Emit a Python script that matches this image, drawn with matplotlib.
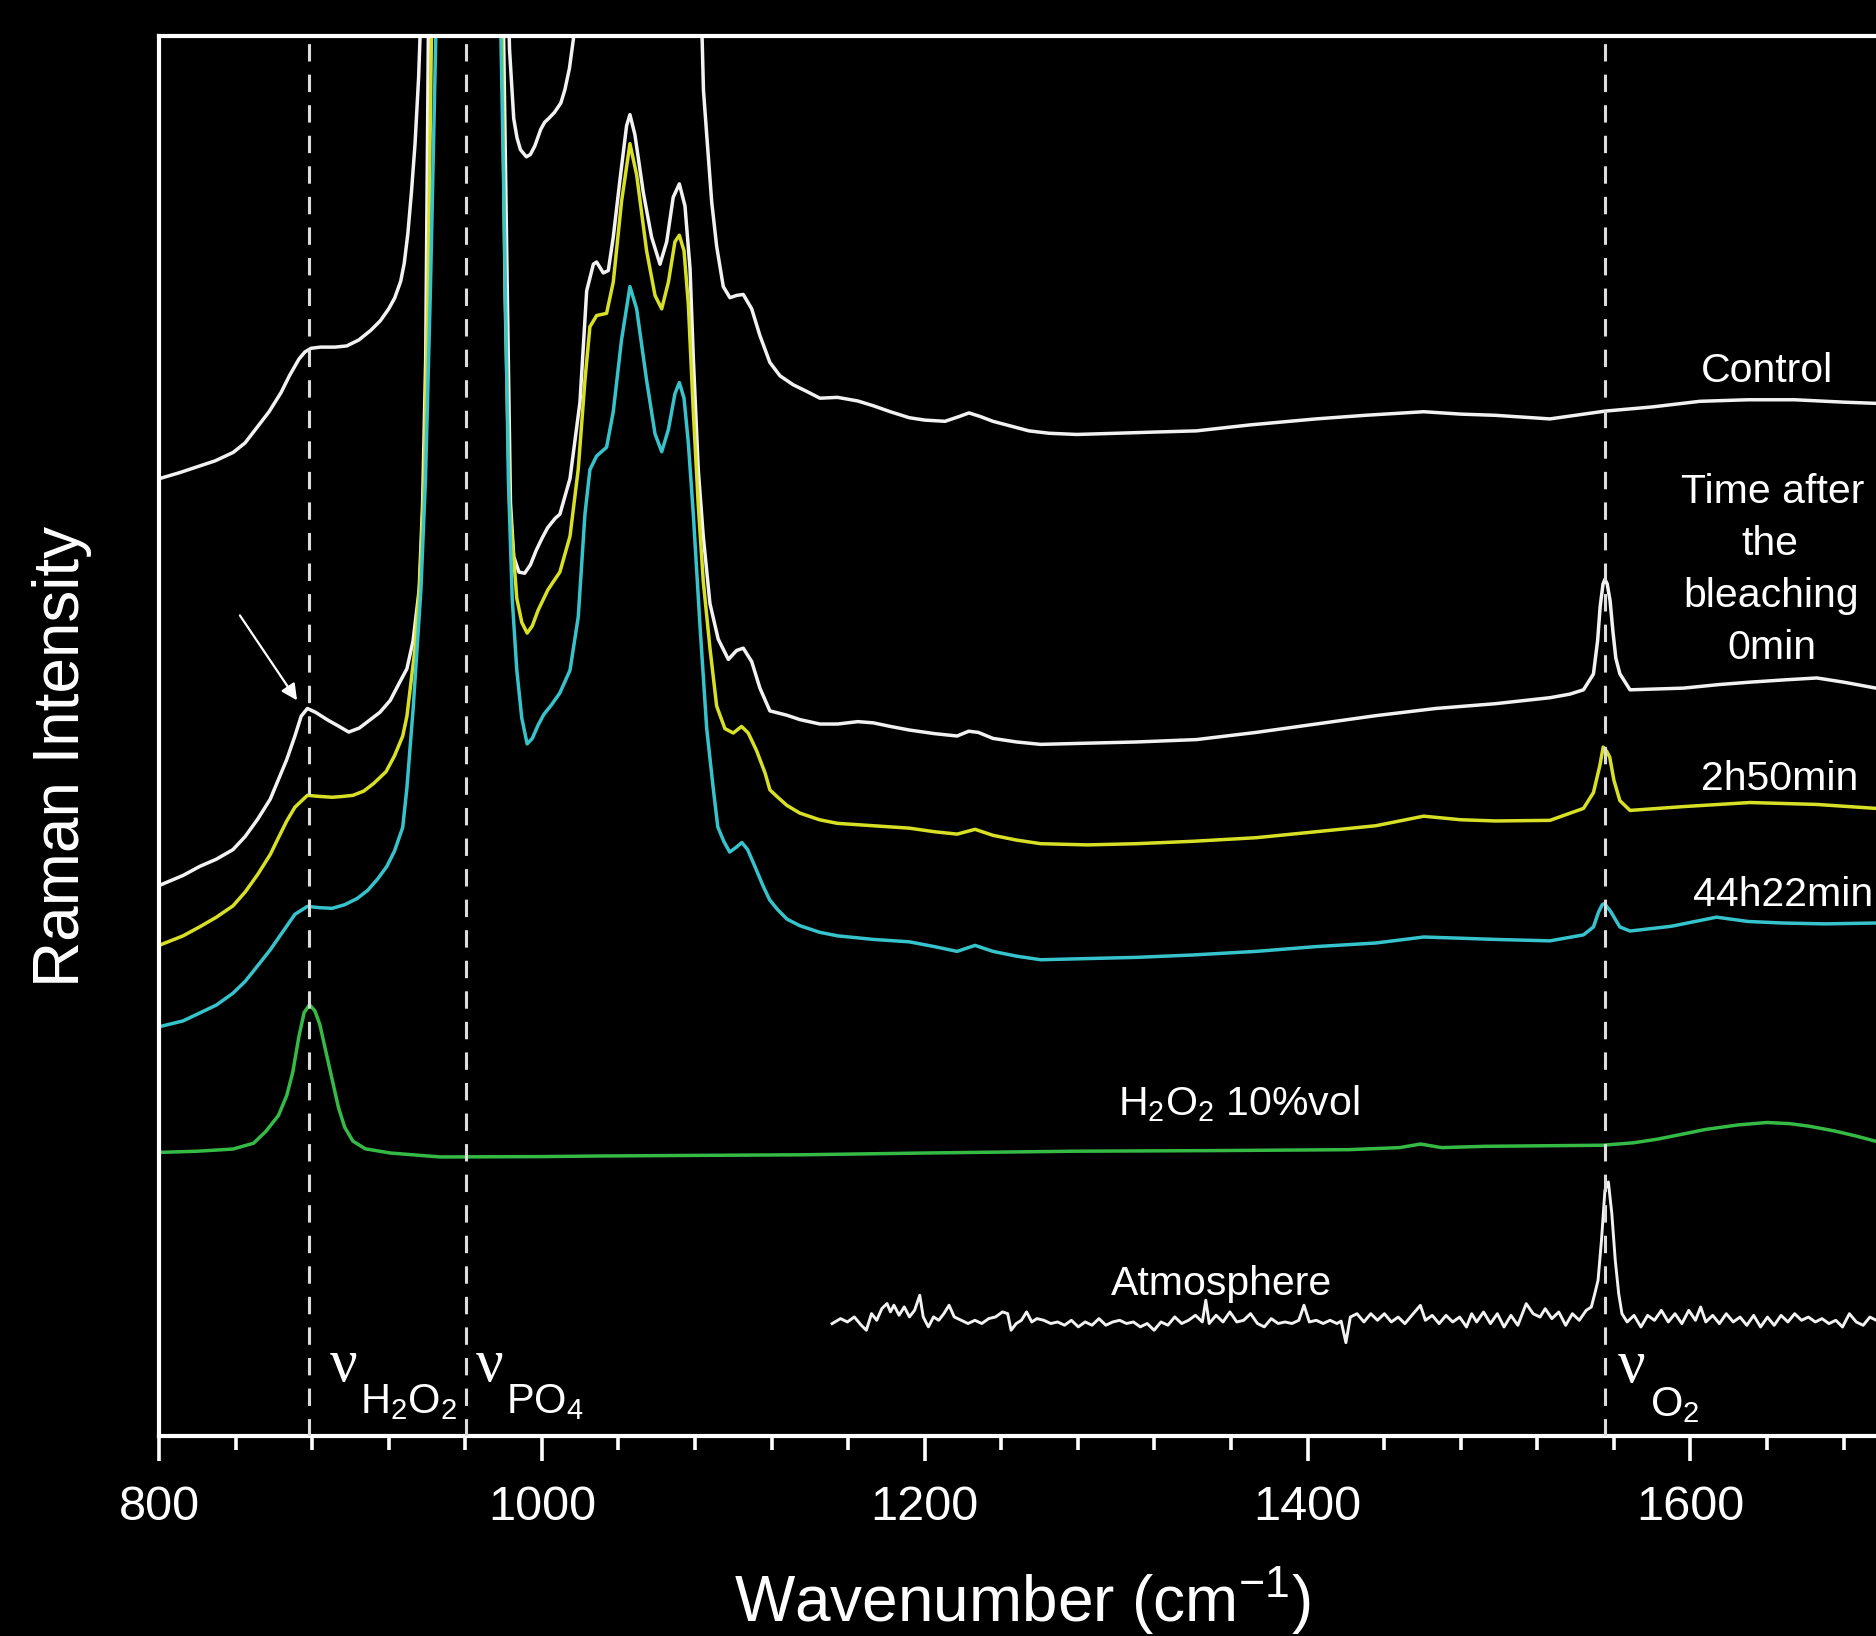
import matplotlib
matplotlib.use('Agg')
import matplotlib.pyplot as plt
from matplotlib.ticker import MultipleLocator

plt.rcParams['font.family'] = ['Liberation Sans', 'DejaVu Sans']
plt.rcParams['mathtext.fontset'] = 'custom'
plt.rcParams['mathtext.rm'] = 'Liberation Sans'
plt.rcParams['mathtext.it'] = 'Liberation Sans:italic'
plt.rcParams['mathtext.bf'] = 'Liberation Sans:bold'

# ---------------- data (wavenumber cm-1, Raman intensity in arbitrary units, offset spectra) ----------------
control_x = [800, 810.6, 820, 829.4, 838.75, 845, 851.25, 857.5, 863.75, 868.1, 873.1, 876.25, 879.4, 884.4,
             891.9, 898.1, 904.4, 910.6, 915.6, 920, 923.1, 926.25, 928.1, 930, 931.9, 933.75, 935.6, 937.5,
             942, 950, 961, 972, 978, 981, 983.1, 985.3, 987, 988.8, 991.9, 994, 996.3, 999.4, 1001.5, 1003.5,
             1006.5, 1009.9, 1012, 1014.4, 1016.6, 1025, 1046, 1060, 1072, 1080, 1084.4, 1086.1, 1088.7, 1091.3,
             1094.75, 1098.25, 1101.75, 1105.2, 1109.6, 1113.9, 1119.1, 1124.4, 1131.3, 1138.3, 1145.25, 1154.4,
             1165, 1173.1, 1182, 1191.9, 1200, 1210.6, 1218, 1223.1, 1229, 1235.6, 1245, 1254.4, 1265, 1279.4,
             1300, 1320, 1341.9, 1370, 1404.4, 1430, 1460.6, 1480, 1498.1, 1526.6, 1555.3, 1580, 1604.9, 1630,
             1654.4, 1680, 1696.9]
control_y = [800, 805, 810, 815, 822, 830, 843, 856, 872, 886, 900, 906, 909, 910,
             910, 911, 916, 924, 932, 942, 951, 965, 980, 1005, 1040, 1080, 1135, 1220,
             1500, 1800, 2000, 1800, 1500, 1300, 1159, 1101, 1085, 1075, 1069, 1071, 1078, 1092, 1098, 1101,
             1106, 1114, 1125, 1143, 1169, 1500, 1900, 1700, 1800, 1400, 1124.8, 1087.5, 1031.5, 994.2,
             960.6, 951.3, 953.2, 954, 942, 919.6, 897.2, 886, 878.5, 873, 867.3, 868,
             865, 861, 856, 851, 849, 848, 852, 855, 852, 848, 844, 840, 838, 837,
             838, 839, 840, 845, 850, 853, 856, 854, 853, 850, 856.5, 860, 864.7, 866,
             866, 864, 863]

t0_x = [800, 812.6, 821.25, 829.9, 838.6, 845, 851.6, 858.1, 862.4, 866.7, 871, 874.25, 877.5, 881.8, 888.3,
        893.75, 899.1, 904.6, 910, 915.4, 920.8, 925.1, 929.5, 932.7, 935.9, 937.7, 939.3, 940.7, 950, 961,
        970, 980, 982, 983.6, 985.3, 988, 991, 994, 997, 1000, 1003, 1007, 1009.4, 1014.7, 1019.9, 1023.4,
        1026.9, 1028.6, 1032.1, 1034.7, 1037.3, 1040.8, 1044.25, 1046, 1048.6, 1053, 1057.3, 1061.7, 1065.2,
        1068.6, 1071.8, 1074.75, 1077.4, 1079.1, 1081.7, 1084.3, 1087.8, 1092.1, 1097.4, 1101.75, 1105.2,
        1109.6, 1113.9, 1119.1, 1127.9, 1134.8, 1145.25, 1154.4, 1165, 1173.1, 1182, 1191.9, 1205, 1216.9,
        1223, 1228, 1235.6, 1248, 1260.6, 1285, 1310.6, 1341.9, 1373.1, 1404.4, 1435.6, 1466.9, 1498.1,
        1526.6, 1537, 1544.1, 1549.3, 1551.5, 1552.8, 1554.3, 1555.3, 1556.5, 1558, 1559.5, 1561, 1563.1,
        1568.4, 1596.3, 1615, 1631.1, 1650, 1666, 1680, 1696.9]
t0_y = [460, 468.5, 476, 482, 490, 501, 515.6, 532.2, 548.7, 565.2, 585, 601.5, 608, 604.8, 598.2,
        593.3, 588.3, 591.6, 598.2, 604.8, 614.8, 628, 641.2, 664.3, 707.3, 780, 900, 1170, 1700, 2000,
        1700, 1170, 950, 780, 735, 722, 721, 728, 740, 750, 759, 767, 770.3, 800.2, 864, 957,
        979.3, 981.1, 972, 974, 1002, 1050, 1095, 1104.3, 1087.5, 1039, 1002, 979.3, 998,
        1035.2, 1046.4, 1028, 975.5, 901, 807.6, 752, 695.7, 666, 649, 656.5, 658.4,
        647.2, 625, 606, 602.4, 598.7, 595, 595, 597, 596, 593, 590, 587, 585,
        589, 588, 583, 580, 578, 579, 580, 582, 588, 595, 602, 608, 612,
        617, 620, 623.6, 636.8, 665, 693, 712, 716, 712, 698, 672, 650, 637,
        623.6, 625, 628, 630, 632, 633.5, 630, 625]

t1_x = [800, 812.6, 821.25, 829.9, 838.6, 845, 851.6, 858.1, 862.4, 866.7, 871, 877.5, 884, 890.5, 896,
        901.3, 907, 912.1, 918.6, 923, 927.3, 929.5, 933.7, 936.3, 938.5, 940.5, 942.3, 950, 961, 970,
        979.2, 980.8, 983.1, 986.9, 989.5, 992.3, 995, 998, 1001, 1003.1, 1006, 1009.4, 1014.7, 1019, 1022.5,
        1025.1, 1028.6, 1033.8, 1037.3, 1041.6, 1046, 1049.5, 1054.7, 1059.1, 1062.6, 1066.1, 1069.5, 1071.8,
        1074.25, 1076.5, 1079.1, 1081.7, 1084.3, 1087.8, 1091.3, 1095.6, 1100, 1104.3, 1107.8, 1112.2,
        1116.6, 1119.1, 1123.1, 1128, 1134.7, 1145, 1154.4, 1173.1, 1191.9, 1205, 1216.9, 1226.3, 1235.6,
        1248, 1260.6, 1285, 1310.6, 1340, 1373.1, 1404.4, 1435.6, 1460.6, 1480, 1498.1, 1526.6, 1544.1,
        1549.3, 1552.6, 1554.4, 1556.3, 1557.8, 1560, 1563.1, 1568.4, 1596.3, 1631.1, 1666, 1696.9]
t1_y = [410, 418, 425.5, 433.5, 443, 454.6, 469.4, 485.9, 500, 513.9, 525.5, 535.4, 534.5, 533.8, 534.5,
        535.4, 539, 545.3, 555.2, 568.4, 584.9, 601.5, 657.6, 715, 800, 950, 1170, 1800, 2200, 1800,
        1170, 950, 780, 700, 680, 671, 677, 690, 700, 707, 714, 722, 752, 808, 882.3,
        927, 936.4, 938.2, 964.4, 1031.5, 1080, 1054, 990.5, 953.2, 942, 964.4, 998, 1003.5,
        990.5, 946, 856.1, 778, 714.4, 658.4, 610, 591.2, 587.5, 593, 587.5, 572.6,
        554, 540, 534, 527, 520.6, 515, 512, 510, 508, 505, 503, 507, 502,
        498, 495, 494, 495, 497, 500, 505, 510, 518, 515, 514, 514.5, 524.5,
        537.7, 560, 575.7, 572, 567.4, 548, 531, 522.8, 526, 529.4, 527.8, 524.5]

t2_x = [800, 812.6, 821.25, 829.9, 838.6, 845, 851.6, 858.1, 862.4, 866.7, 871, 877.5, 884, 890.5, 897,
        903.5, 909, 914.3, 919, 923, 927.3, 929.5, 932.75, 936.8, 939.2, 941.8, 944.6, 950, 961, 970,
        978.6, 980, 982.5, 984.5, 986.9, 989.5, 992.3, 995, 998, 1001, 1005, 1009.4, 1014.7, 1019, 1022.5,
        1025.1, 1028.6, 1033.8, 1037.3, 1041.6, 1046, 1049.5, 1054.7, 1059.1, 1062.6, 1066.1, 1069.5, 1071.8,
        1074.25, 1076.5, 1079.1, 1082.6, 1086.1, 1089.6, 1091.9, 1095, 1098.1, 1101.5, 1104.5, 1107.5, 1111,
        1115.6, 1119, 1123.1, 1128, 1134.7, 1145, 1154.4, 1173.1, 1191.9, 1205, 1216.9, 1226.3, 1235.6,
        1248, 1260.6, 1285, 1310.6, 1340, 1373.1, 1404.4, 1435.6, 1460.6, 1480, 1498.1, 1526.6, 1544.1,
        1549.3, 1552, 1553.9, 1555.1, 1556.5, 1558.2, 1563.1, 1568.4, 1590, 1613.6, 1630, 1648.1, 1670,
        1696.9]
t2_y = [342, 346.9, 353.5, 360.1, 370, 379.9, 393.1, 406.3, 416.2, 426.1, 436, 442.6, 441.5, 441, 444,
        449.2, 456, 465.7, 476, 488.8, 508.6, 541.7, 607.8, 707, 800, 960, 1170, 1600, 2200, 1600,
        1170, 1050, 800, 700, 640, 600, 578.4, 583, 594, 603, 611, 621, 640, 684.5, 770.3,
        807.6, 819, 826.3, 856.1, 916, 960.6, 942, 882.3, 837.5, 822.6, 841.2, 871, 880.4,
        867.3, 830, 770.3, 677, 591.2, 540, 509, 497, 488, 492, 496, 490, 477,
        459.5, 448, 440, 432, 426.5, 421, 418, 415, 413, 409, 405, 410, 405,
        401, 398, 399, 400, 402, 405, 409, 412, 417, 416, 415, 413.8, 418.8,
        425.4, 438, 444, 445, 442, 438.6, 425.4, 422, 426, 433.6, 430, 428.7, 428,
        428.7]

h2o2_x = [800, 820, 838.6, 849.4, 855.9, 862.4, 866.7, 869.9, 873.1, 875.8, 878.6, 881.4, 884, 887.25, 890.5,
          893.75, 897, 901.3, 907.8, 920.8, 946.75, 1000, 1029.4, 1080, 1134.8, 1200, 1278, 1350, 1421.5,
          1448, 1459, 1470, 1493, 1554, 1570, 1582.5, 1595, 1607.9, 1625, 1640, 1652, 1661.6, 1675, 1686.7,
          1696.9]
h2o2_y = [237, 238, 239.8, 244.7, 254.7, 267.9, 284.4, 304.2, 334, 353.8, 360.4, 355.4, 344, 320.7, 297.6,
          274.5, 258, 246.4, 240, 236.5, 233.2, 233.5, 234, 234.5, 235, 236.5, 238, 238.5, 239.3,
          241, 244, 241, 242.1, 243, 245, 248, 252, 256.2, 260, 262, 261, 259, 255, 250.6,
          246.3]

atm_x = [1151.6, 1156.0, 1159.6, 1163.2, 1166.8, 1169.5, 1172.2, 1174.9, 1177.6, 1180.3, 1182.1, 1183.9,
         1186.6, 1189.3, 1192.0, 1194.7, 1197.4, 1199.2, 1201.9, 1204.6, 1207.3, 1210.0, 1212.7, 1215.4,
         1219.0, 1222.6, 1226.2, 1229.8, 1233.4, 1237.0, 1240.6, 1243.3, 1245.1, 1247.8, 1250.5, 1253.2,
         1255.9, 1258.6, 1262.2, 1265.8, 1269.4, 1273.0, 1276.6, 1280.2, 1283.8, 1287.4, 1291.0, 1294.6,
         1298.2, 1301.8, 1305.4, 1309.0, 1312.6, 1316.2, 1319.8, 1323.4, 1327.0, 1330.6, 1334.2, 1337.8,
         1341.4, 1345.0, 1346.8, 1348.6, 1352.2, 1355.8, 1359.4, 1363.0, 1366.6, 1370.2, 1373.8, 1377.4,
         1381.0, 1384.6, 1388.2, 1391.8, 1395.4, 1398.1, 1400.9, 1404.5, 1408.1, 1411.7, 1415.3, 1417.5,
         1420.0, 1422.3, 1425.8, 1429.4, 1433.0, 1436.5, 1440.1, 1443.7, 1447.3, 1450.8, 1454.4, 1458.9,
         1461.5, 1465.1, 1468.7, 1472.3, 1475.8, 1479.4, 1483.0, 1485.7, 1488.3, 1491.9, 1495.5, 1499.1,
         1502.6, 1506.2, 1509.8, 1514.2, 1517.8, 1521.4, 1524.1, 1527.6, 1531.2, 1534.8, 1538.3, 1541.9,
         1545.5, 1548.2, 1550.0, 1551.7, 1553.5, 1555.3, 1557.1, 1558.9, 1560.7, 1562.5, 1564.2, 1566.9,
         1570.5, 1574.1, 1577.6, 1581.2, 1584.8, 1588.4, 1591.9, 1595.5, 1599.1, 1602.6, 1605.3, 1608.0,
         1611.6, 1615.1, 1618.7, 1622.3, 1625.9, 1629.4, 1633.0, 1636.6, 1640.2, 1643.7, 1647.3, 1650.9,
         1654.4, 1658.0, 1661.6, 1665.2, 1668.7, 1672.3, 1675.9, 1679.4, 1683.0, 1686.6, 1690.2, 1693.7,
         1697.0]
atm_y = [93.9, 98.1, 95.3, 99.5, 92.6, 88.4, 102.3, 96.7, 106.5, 110.7, 103.7, 109.3,
         100.9, 107.9, 99.5, 105.1, 117.6, 99.5, 91.2, 99.5, 96.7, 102.3, 109.3, 99.5,
         96.7, 94.0, 96.7, 94.0, 98.1, 99.5, 103.7, 102.3, 88.4, 94.0, 96.7, 103.7,
         95.3, 98.1, 96.7, 94.0, 95.3, 92.6, 96.7, 91.2, 95.3, 92.6, 98.1, 92.6,
         95.3, 96.7, 94.0, 95.3, 91.2, 94.0, 88.4, 95.3, 92.6, 99.5, 94.0, 96.7,
         100.9, 95.3, 113.5, 94.0, 100.9, 95.3, 103.7, 95.3, 96.7, 102.3, 94.0, 91.2,
         98.1, 94.0, 95.3, 94.0, 96.7, 109.3, 95.3, 96.7, 94.0, 96.7, 94.0, 96.0,
         78.0, 99.4, 102.2, 95.3, 102.2, 96.7, 102.2, 95.3, 99.4, 93.9, 100.8, 109.2,
         96.7, 100.8, 93.9, 100.8, 95.3, 99.4, 91.1, 102.2, 95.3, 103.6, 93.9, 102.2,
         91.1, 100.8, 92.5, 110.6, 102.2, 99.4, 106.4, 98.1, 103.6, 92.5, 102.2, 96.7,
         105.0, 107.8, 118.9, 130.1, 163.5, 205.3, 212.3, 185.8, 146.8, 118.9, 102.2, 95.3,
         100.8, 91.1, 100.8, 96.7, 105.0, 95.3, 102.2, 93.9, 105.0, 96.7, 107.8, 95.3,
         100.8, 93.9, 102.2, 95.3, 99.4, 92.5, 100.8, 91.1, 99.4, 92.5, 100.8, 95.3,
         102.2, 96.7, 99.4, 95.3, 98.1, 93.9, 96.7, 91.1, 102.2, 95.3, 92.5, 99.4,
         96.7]

band_positions = [878.1, 960.6, 1555.3]   # nu(H2O2), nu(PO4), nu(O2)
major_ticks = [800, 1000, 1200, 1400, 1600]

WHITE = '#f2f2f2'
YELLOW = '#d8e026'
CYAN = '#36c3cc'
GREEN = '#35bb45'

# ---------------- figure ----------------
fig = plt.figure(figsize=(18.76, 16.36), dpi=100, facecolor='black')
ax = fig.add_axes([159 / 1876, 200 / 1636, 1717 / 1876, 1400 / 1636])
ax.set_facecolor('black')

LW = 2.5
ax.plot(control_x, control_y, color=WHITE, lw=LW, zorder=2, solid_joinstyle='round')
ax.plot(t0_x, t0_y, color=WHITE, lw=LW, zorder=2, solid_joinstyle='round')
ax.plot(t1_x, t1_y, color=YELLOW, lw=LW, zorder=2, solid_joinstyle='round')
ax.plot(t2_x, t2_y, color=CYAN, lw=LW, zorder=2, solid_joinstyle='round')
ax.plot(h2o2_x, h2o2_y, color=GREEN, lw=LW, zorder=2, solid_joinstyle='round')
ax.plot(atm_x, atm_y, color=WHITE, lw=2.1, zorder=2, solid_joinstyle='round')

for v in band_positions:
    ax.axvline(v, color='#dcdcdc', lw=2.2, dashes=(5.7, 4.3), zorder=3)

ax.set_xlim(800, 1696.9)
ax.set_ylim(0, 1170)

ax.set_xticks(major_ticks)
ax.xaxis.set_minor_locator(MultipleLocator(40))
ax.set_yticks([])
ax.tick_params(axis='x', which='major', direction='out', length=18, width=2.6,
               color='white', labelcolor='white', labelsize=35, pad=17)
ax.tick_params(axis='x', which='minor', direction='out', length=10, width=2.6, color='white')

for s in ['left', 'bottom', 'top']:
    ax.spines[s].set_color('white')
    ax.spines[s].set_linewidth(3)
ax.spines['right'].set_visible(False)

ax.set_xlabel('Wavenumber (cm$^{-1}$)', fontsize=46, color='white')
ax.xaxis.label.set_va('center')
ax.xaxis.set_label_coords(0.503, -0.1177)
ax.set_ylabel('Raman Intensity', fontsize=46, color='white')
ax.yaxis.label.set_va('center')
ax.yaxis.set_label_coords(-0.0564, 0.4857)

# curve labels
lab = dict(color='white', fontsize=29.5, ha='center', va='baseline')
ax.text(1639.75, 881, 'Control', **lab)
ax.text(1643.0, 780, 'Time after', **lab)
ax.text(1641.5, 736.5, 'the', **lab)
ax.text(1641.9, 693, 'bleaching', **lab)
ax.text(1642.5, 649, '0min', **lab)
ax.text(1646.7, 540, '2h50min', **lab)
ax.text(1648.4, 443, '44h22min', **lab)
ax.text(1364.2, 268, 'H$_2$O$_2$ 10%vol', **lab)
ax.text(1355, 118, 'Atmosphere', **lab)

# band labels
nu = dict(color='white', fontsize=44, ha='left', va='baseline', family=['Liberation Serif', 'DejaVu Serif'])
sub = dict(color='white', fontsize=30, ha='left', va='baseline')
ax.text(889.0, 46, 'ν', **nu)
ax.text(905.0, 19, 'H$_2$O$_2$', **sub)
ax.text(965.3, 46, 'ν', **nu)
ax.text(981.0, 19, 'PO$_4$', **sub)
ax.text(1561.9, 45, 'ν', **nu)
ax.text(1578.75, 17, 'O$_2$', **sub)

ax.annotate('', xy=(872.1, 614.8), xytext=(842.25, 685.8),
            arrowprops=dict(arrowstyle='-|>', color='white', lw=1.6, mutation_scale=24,
                            shrinkA=0, shrinkB=0))

fig.savefig('out.png', dpi=100, facecolor='black')
